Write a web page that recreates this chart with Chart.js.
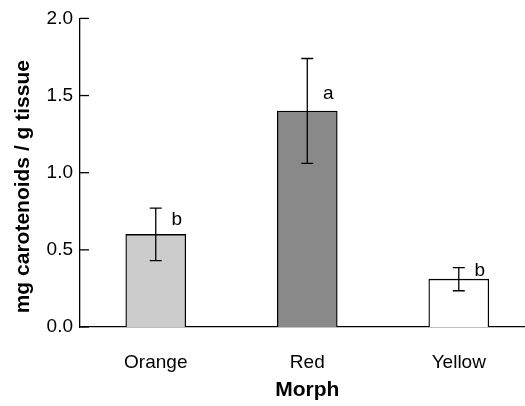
<!DOCTYPE html>
<html>
<head>
<meta charset="utf-8">
<script src="https://cdn.jsdelivr.net/npm/chart.js@4.4.1/dist/chart.umd.min.js"></script>
<style>
  body { margin: 0; background: #fff; }
  #wrap { width: 525px; height: 406px; position: relative; }
</style>
</head>
<body>
<div id="wrap"><canvas id="chart"></canvas></div>
<script>
const morphs = ['Orange', 'Red', 'Yellow'];
const carotenoids = [0.60, 1.40, 0.31];
const errors = [0.17, 0.34, 0.075];
const groupLetters = ['b', 'a', 'b'];
const letterHeights = [0.66, 1.48, 0.33];
const barColors = ['#cccccc', '#898989', '#ffffff'];
const yTicks = [0, 0.5, 1.0, 1.5, 2.0];

const fontFamily = '"Liberation Sans", Arial, sans-serif';
Chart.defaults.font.family = fontFamily;
Chart.defaults.font.size = 19;
Chart.defaults.color = '#000';

// error bars, significance letters, inward ticks and axis titles
const extras = {
    id: 'extras',
    afterDatasetsDraw(chart) {
        const { ctx, chartArea, scales: { x, y } } = chart;
        ctx.save();
        ctx.strokeStyle = '#000';
        ctx.fillStyle = '#000';
        ctx.lineWidth = 1.3;

        carotenoids.forEach((v, i) => {
            const cx = x.getPixelForValue(i);
            const top = y.getPixelForValue(v + errors[i]);
            const bot = y.getPixelForValue(v - errors[i]);
            ctx.beginPath();
            ctx.moveTo(cx, top);
            ctx.lineTo(cx, bot);
            ctx.moveTo(cx - 6, top);
            ctx.lineTo(cx + 6, top);
            ctx.moveTo(cx - 6, bot);
            ctx.lineTo(cx + 6, bot);
            ctx.stroke();

            ctx.font = '19px ' + fontFamily;
            ctx.textAlign = 'center';
            ctx.textBaseline = 'alphabetic';
            ctx.fillText(groupLetters[i], cx + 21, y.getPixelForValue(letterHeights[i]));
        });

        yTicks.forEach(t => {
            const py = y.getPixelForValue(t);
            ctx.beginPath();
            ctx.moveTo(chartArea.left, py);
            ctx.lineTo(chartArea.left + 9, py);
            ctx.stroke();
        });

        ctx.font = 'bold 21px ' + fontFamily;
        ctx.textAlign = 'center';
        ctx.textBaseline = 'alphabetic';
        ctx.fillText('Morph', x.getPixelForValue(1), 396);

        ctx.translate(29, (chartArea.top + chartArea.bottom) / 2 + 14);
        ctx.rotate(-Math.PI / 2);
        ctx.fillText('mg carotenoids / g tissue', 0, 0);
        ctx.restore();
    }
};

new Chart(document.getElementById('chart'), {
    type: 'bar',
    data: {
        datasets: [{
            data: carotenoids.map((v, i) => ({ x: i, y: v })),
            backgroundColor: barColors,
            borderColor: '#000',
            borderWidth: 1.3,
            barThickness: 60
        }]
    },
    options: {
        responsive: true,
        maintainAspectRatio: false,
        animation: false,
        layout: { padding: { top: 14, right: 0, bottom: 0, left: 0 } },
        plugins: {
            legend: { display: false },
            tooltip: { enabled: false }
        },
        scales: {
            x: {
                type: 'linear',
                min: -0.5,
                max: 2.437,
                offset: false,
                grid: { display: false, drawTicks: false },
                border: { display: true, color: '#000', width: 1.3 },
                afterBuildTicks: scale => {
                    scale.ticks = morphs.map((_, i) => ({ value: i }));
                },
                afterFit: scale => { scale.height = 79; },
                ticks: {
                    padding: 24,
                    maxRotation: 0,
                    callback: value => morphs[value] ?? ''
                }
            },
            y: {
                min: 0,
                max: 2,
                grid: { display: false, drawTicks: false },
                border: { display: true, color: '#000', width: 1.3 },
                afterFit: scale => { scale.width = 80; },
                ticks: {
                    stepSize: 0.5,
                    padding: 7,
                    callback: value => value.toFixed(1)
                }
            }
        }
    },
    plugins: [extras]
});
</script>
</body>
</html>
